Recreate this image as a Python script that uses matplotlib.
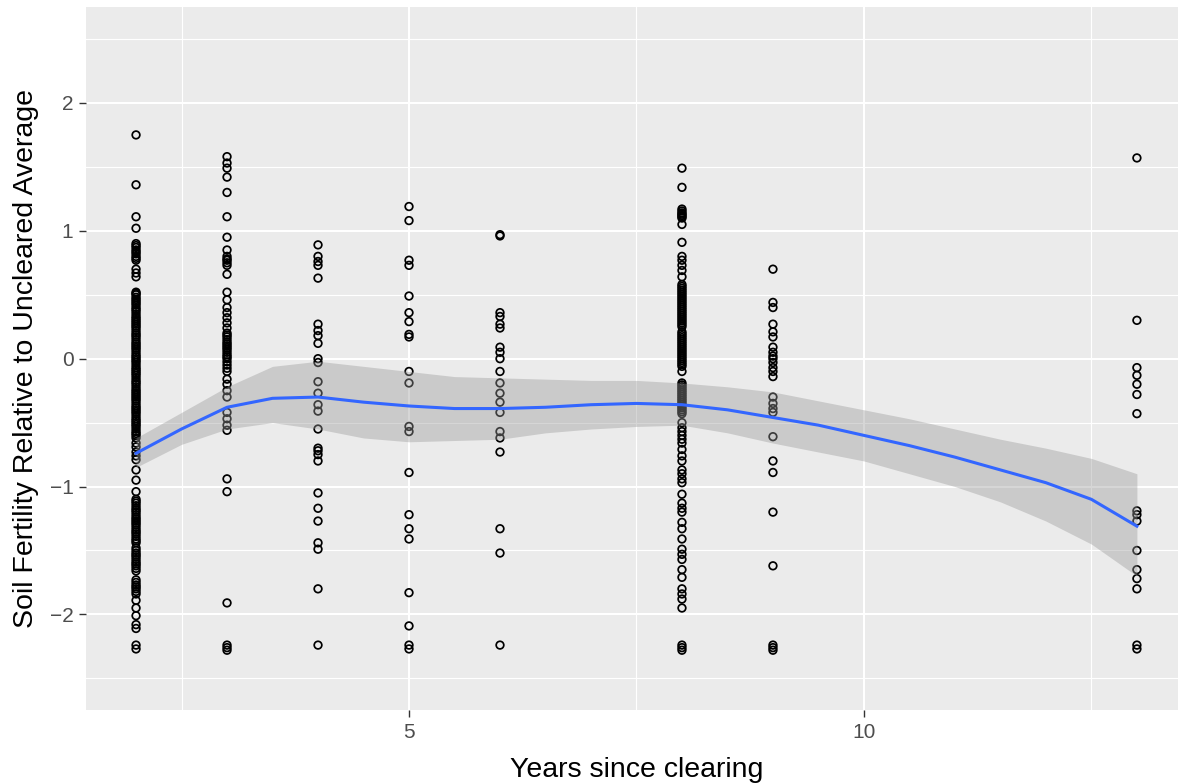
import numpy as np
import matplotlib
matplotlib.use("Agg")
import matplotlib.pyplot as plt

# soil fertility readings (relative to uncleared average), grouped by years since clearing
fert_y2 = [1.75, 1.36, 1.11, 1.02, 0.9, 0.885, 0.87, 0.85, 0.835, 0.82, 0.8, 0.785,
           0.77, 0.7, 0.67, 0.64,
           0.52, 0.51, 0.5, 0.48, 0.465, 0.45, 0.435, 0.42, 0.4, 0.385, 0.37, 0.35,
           0.33, 0.315, 0.3, 0.285, 0.27, 0.255, 0.24, 0.22, 0.2, 0.185, 0.17, 0.15,
           0.13, 0.115, 0.1, 0.085, 0.07, 0.05, 0.03, 0.015, 0.0, -0.015, -0.03, -0.05,
           -0.07, -0.085, -0.1, -0.115, -0.13, -0.15, -0.17, -0.185, -0.2, -0.22,
           -0.24, -0.255, -0.27, -0.285, -0.3, -0.315, -0.33, -0.35, -0.37, -0.385,
           -0.4, -0.415, -0.43, -0.45, -0.47, -0.485, -0.5, -0.515, -0.53, -0.55,
           -0.57, -0.585, -0.6, -0.62, -0.66, -0.69, -0.73, -0.76, -0.79, -0.87, -0.95,
           -1.04, -1.1, -1.115, -1.13, -1.15, -1.17, -1.185, -1.2, -1.22, -1.24, -1.255,
           -1.27, -1.285, -1.3, -1.32, -1.34, -1.355, -1.37, -1.39, -1.41, -1.425,
           -1.44, -1.48, -1.5, -1.52, -1.535, -1.55, -1.57, -1.59, -1.605, -1.62,
           -1.64, -1.66, -1.73, -1.75, -1.77, -1.785, -1.8, -1.82, -1.84, -1.89, -1.95,
           -2.01, -2.08, -2.11, -2.24, -2.27]
fert_y3 = [1.58, 1.53, 1.49, 1.42, 1.3, 1.11, 0.95, 0.85, 0.8, 0.78, 0.77, 0.75, 0.73,
           0.66, 0.52, 0.46, 0.4, 0.36, 0.32, 0.28, 0.24, 0.2, 0.185, 0.17, 0.15, 0.13,
           0.115, 0.1, 0.085, 0.07, 0.05, 0.03, 0.015, 0.0, -0.025, -0.05, -0.075,
           -0.1, -0.16, -0.2, -0.25, -0.3, -0.42, -0.47, -0.52, -0.56, -0.94, -1.04,
           -1.91, -2.24, -2.26, -2.28]
fert_y4 = [0.89, 0.8, 0.76, 0.73, 0.63, 0.27, 0.22, 0.18, 0.12, 0.0, -0.03, -0.18,
           -0.27, -0.36, -0.41, -0.55, -0.7, -0.72, -0.75, -0.8, -1.05, -1.17, -1.27,
           -1.44, -1.49, -1.8, -2.24]
fert_y5 = [1.19, 1.08, 0.77, 0.73, 0.49, 0.36, 0.29, 0.19, 0.17, -0.1, -0.19, -0.53,
           -0.57, -0.89, -1.22, -1.33, -1.41, -1.83, -2.09, -2.24, -2.27]
fert_y6 = [0.97, 0.96, 0.36, 0.33, 0.27, 0.24, 0.09, 0.05, 0.0, -0.1, -0.19, -0.27,
           -0.34, -0.42, -0.57, -0.62, -0.73, -1.33, -1.52, -2.24]
fert_y8 = [1.49, 1.34, 1.17, 1.155, 1.14, 1.13, 1.12, 1.11, 1.1, 1.05, 0.91, 0.8,
           0.77, 0.73, 0.69, 0.64, 0.58, 0.565, 0.55, 0.535, 0.52, 0.505, 0.49, 0.475,
           0.46, 0.445, 0.43, 0.415, 0.4, 0.385, 0.37, 0.355, 0.34, 0.325, 0.31, 0.295,
           0.28, 0.265, 0.25, 0.21, 0.195, 0.18, 0.165, 0.15, 0.135, 0.12, 0.105, 0.09,
           0.075, 0.06, 0.045, 0.03, 0.015, 0.0, -0.015, -0.03, -0.045, -0.06, -0.1,
           -0.19, -0.205, -0.22, -0.235, -0.25, -0.265, -0.28, -0.295, -0.31, -0.325,
           -0.34, -0.355, -0.37, -0.385, -0.4, -0.415, -0.43, -0.5, -0.54, -0.57,
           -0.6, -0.63, -0.66, -0.71, -0.76, -0.8, -0.87, -0.9, -0.94, -0.97, -1.06,
           -1.13, -1.17, -1.2, -1.28, -1.33, -1.41, -1.49, -1.53, -1.57, -1.65, -1.71,
           -1.8, -1.84, -1.88, -1.95, -2.24, -2.26, -2.28]
fert_y9 = [0.7, 0.44, 0.4, 0.27, 0.21, 0.17, 0.09, 0.05, 0.02, 0.0, -0.03, -0.07,
           -0.1, -0.14, -0.3, -0.35, -0.39, -0.42, -0.61, -0.8, -0.89, -1.2, -1.62,
           -2.24, -2.26, -2.28]
fert_y13 = [1.57, 0.3, -0.07, -0.13, -0.2, -0.28, -0.43, -1.19, -1.22, -1.27, -1.5,
            -1.65, -1.72, -1.8, -2.24, -2.27]

years = [2, 3, 4, 5, 6, 8, 9, 13]
groups = [fert_y2, fert_y3, fert_y4, fert_y5, fert_y6, fert_y8, fert_y9, fert_y13]

# smoothed trend and its confidence band
smooth_x = [2.0, 2.5, 3.0, 3.5, 4.0, 4.5, 5.0, 5.5, 6.0, 6.5, 7.0, 7.5, 8.0, 8.5,
            9.0, 9.5, 10.0, 10.5, 11.0, 11.5, 12.0, 12.5, 13.0]
smooth_fit = [-0.74, -0.55, -0.38, -0.31, -0.30, -0.34, -0.37, -0.39, -0.39, -0.38,
              -0.36, -0.35, -0.36, -0.40, -0.46, -0.52, -0.60, -0.68, -0.77, -0.87,
              -0.97, -1.10, -1.31]
smooth_lo = [-0.85, -0.67, -0.55, -0.50, -0.55, -0.62, -0.65, -0.64, -0.63, -0.58,
             -0.55, -0.53, -0.52, -0.58, -0.66, -0.73, -0.80, -0.90, -1.00, -1.12,
             -1.27, -1.45, -1.70]
smooth_hi = [-0.62, -0.42, -0.22, -0.06, -0.02, -0.06, -0.10, -0.14, -0.15, -0.16,
             -0.17, -0.17, -0.19, -0.22, -0.26, -0.33, -0.40, -0.47, -0.55, -0.63,
             -0.70, -0.78, -0.90]

x = np.concatenate([np.full(len(g), yr, dtype=float) for yr, g in zip(years, groups)])
y = np.concatenate([np.array(g, dtype=float) for g in groups])

plt.rcParams['font.family'] = ['Liberation Sans', 'DejaVu Sans']

fig = plt.figure(figsize=(11.78, 7.84), dpi=100)
ax = fig.add_axes([0.073, 0.094, 0.9346, 0.897])
ax.set_facecolor('#EBEBEB')
for s in ax.spines.values():
    s.set_visible(False)

ax.set_xlim(1.45, 13.55)
ax.set_ylim(-2.75, 2.75)
ax.set_xticks([5, 10])
ax.set_xticks([2.5, 7.5, 12.5], minor=True)
ax.set_yticks([-2, -1, 0, 1, 2])
ax.set_yticks([-2.5, -1.5, -0.5, 0.5, 1.5, 2.5], minor=True)
ax.grid(which='major', color='white', linewidth=1.5)
ax.grid(which='minor', color='white', linewidth=0.8)
ax.set_axisbelow(True)
ax.tick_params(which='major', length=5, width=1, color='#333333',
               labelsize=15, labelcolor='#4D4D4D', pad=4)
ax.tick_params(which='minor', length=0)

ax.scatter(x, y, s=30, facecolors='none', edgecolors='black', linewidths=1.25, zorder=3)
ax.fill_between(smooth_x, smooth_lo, smooth_hi, color='#999999', alpha=0.4,
                linewidth=0, zorder=4)
ax.plot(smooth_x, smooth_fit, color='#3366FF', linewidth=2.2, zorder=5)

ax.set_xlabel('Years since clearing', fontsize=20.5, color='black', labelpad=11)
ax.set_ylabel('Soil Fertility Relative to Uncleared Average', fontsize=20.5,
              color='black', labelpad=8)

fig.savefig('out.png', dpi=100)
